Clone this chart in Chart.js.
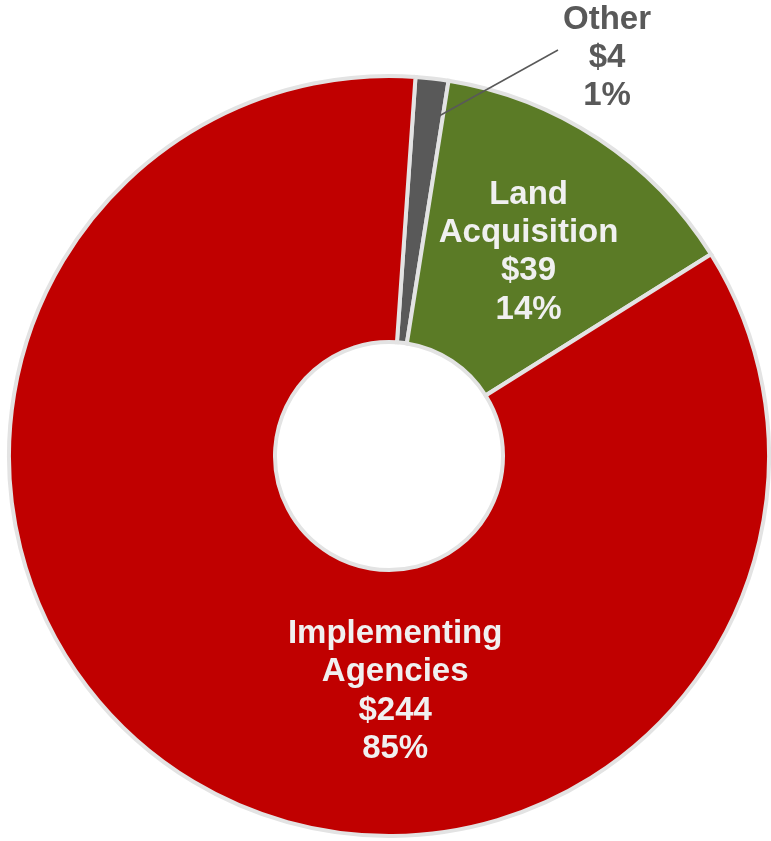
<!DOCTYPE html>
<html>
<head>
<meta charset="utf-8">
<script src="https://cdn.jsdelivr.net/npm/chart.js@4"></script>
<style>
  html, body { margin: 0; padding: 0; background: #ffffff; }
  #wrap { width: 771px; height: 841px; }
</style>
</head>
<body>
<div id="wrap"><canvas id="c" width="771" height="841"></canvas></div>
<script>
const categories = ["Other", "Land Acquisition", "Implementing Agencies"];
const labelLines = [["Other"], ["Land", "Acquisition"], ["Implementing", "Agencies"]];
const values = [4, 39, 244];
const percents = ["1%", "14%", "85%"];
const sliceColors = ["#595959", "#5B7B26", "#C00000"];

// label placement: polar = angle (deg from top, clockwise) + radius fraction of outer radius
const labelPlacement = [
  { mode: "outside", dx: 218, dy: -398 },
  { mode: "polar", angle: 34.4, r: 0.65 },
  { mode: "polar", angle: 178.5, r: 0.62 }
];

const labelPlugin = {
  id: "sliceLabels",
  afterDatasetsDraw(chart) {
    const ctx = chart.ctx;
    const meta = chart.getDatasetMeta(0);
    const lineH = 38.3;
    ctx.save();
    ctx.font = "bold 33px 'Liberation Sans', Arial, sans-serif";
    ctx.textAlign = "center";
    ctx.textBaseline = "middle";
    meta.data.forEach((arc, i) => {
      const p = arc.getProps(["x", "y", "startAngle", "endAngle", "innerRadius", "outerRadius"], true);
      const lines = labelLines[i].concat(["$" + values[i], percents[i]]);
      const pl = labelPlacement[i];
      let cx, cy, color = "#F0F0F0";
      if (pl.mode === "polar") {
        const a = (pl.angle - 90) * Math.PI / 180;
        cx = p.x + Math.cos(a) * p.outerRadius * pl.r;
        cy = p.y + Math.sin(a) * p.outerRadius * pl.r;
      } else {
        // outside label with leader line
        color = "#595959";
        const a = p.endAngle - 0.01;
        const r0 = p.outerRadius - 36;
        const sx = p.x + Math.cos(a) * r0;
        const sy = p.y + Math.sin(a) * r0;
        cx = p.x + pl.dx;
        cy = p.y + pl.dy;
        ctx.strokeStyle = "#595959";
        ctx.lineWidth = 1.5;
        ctx.beginPath();
        ctx.moveTo(sx, sy);
        ctx.lineTo(cx - 49, cy - 8);
        ctx.stroke();
      }
      ctx.fillStyle = color;
      const top = cy - (lines.length - 1) * lineH / 2;
      lines.forEach((t, k) => ctx.fillText(t, cx, top + k * lineH));
    });
    ctx.restore();
  }
};

new Chart(document.getElementById("c"), {
  type: "doughnut",
  data: {
    labels: categories,
    datasets: [{
      data: values,
      backgroundColor: sliceColors,
      borderColor: "#E3E3E3",
      borderWidth: 4,
      borderJoinStyle: "miter"
    }]
  },
  options: {
    responsive: false,
    animation: false,
    devicePixelRatio: 1,
    rotation: 4,
    cutout: "30%",
    layout: { padding: { left: 7, right: 0, top: 74, bottom: 3 } },
    plugins: {
      legend: { display: false },
      tooltip: { enabled: false }
    }
  },
  plugins: [labelPlugin]
});
</script>
</body>
</html>
